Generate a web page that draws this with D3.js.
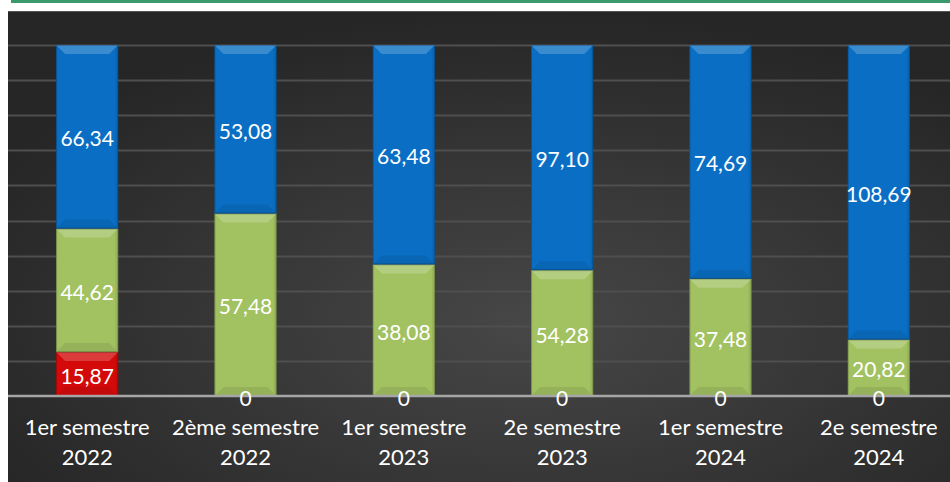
<html lang="fr">
<head>
    <meta charset="UTF-8">
    <title>Semestres</title>
    <script src="https://d3js.org/d3.v7.min.js"></script>
    <style>
        body { margin: 0; background: #ffffff; }
        svg { display: block; }
        text { font-family: Lato, "Open Sans", sans-serif; fill: #ffffff; }
    </style>
</head>
<body>
<div id="chart"></div>
<script>
    // data
    var categories = ["1er semestre|2022", "2ème semestre|2022", "1er semestre|2023",
        "2e semestre|2023", "1er semestre|2024", "2e semestre|2024"];
    var serieRouge = [15.87, 0, 0, 0, 0, 0];
    var serieVerte = [44.62, 57.48, 38.08, 54.28, 37.48, 20.82];
    var serieBleue = [66.34, 53.08, 63.48, 97.10, 74.69, 108.69];
    var gridTicks = [0.1, 0.2, 0.3, 0.4, 0.5, 0.6, 0.7, 0.8, 0.9, 1.0];

    var series = [
        {name: "rouge", values: serieRouge, color: "#d40a0a"},
        {name: "verte", values: serieVerte, color: "#a2c262"},
        {name: "bleue", values: serieBleue, color: "#0a6fc4"}
    ];

    var W = 950, H = 482;
    var plot = {left: 8, right: 958, top: 45, bottom: 396};

    var svg = d3.select("#chart").append("svg")
        .attr("width", W)
        .attr("height", H);

    var defs = svg.append("defs");
    var bg = defs.append("radialGradient").attr("id", "bg")
        .attr("cx", "55%").attr("cy", "65%").attr("r", "65%");
    bg.append("stop").attr("offset", "0%").attr("stop-color", "#474747");
    bg.append("stop").attr("offset", "100%").attr("stop-color", "#262626");

    // white card + green strip on top
    svg.append("rect").attr("x", 11).attr("y", 0).attr("width", W).attr("height", 3)
        .attr("fill", "#3a9a6c");
    svg.append("rect").attr("x", 8).attr("y", 11).attr("width", W).attr("height", H)
        .attr("fill", "url(#bg)");
    svg.append("line").attr("x1", 8).attr("x2", W).attr("y1", 11.5).attr("y2", 11.5)
        .attr("stroke", "#555").attr("stroke-width", 1);

    var x = d3.scaleBand()
        .domain(d3.range(categories.length))
        .range([plot.left, plot.right])
        .paddingInner(0.608)
        .paddingOuter(0.304);

    var y = d3.scaleLinear().domain([0, 1]).range([plot.bottom, plot.top]);

    // gridlines
    svg.append("g").selectAll("line").data(gridTicks).enter().append("line")
        .attr("x1", plot.left).attr("x2", W)
        .attr("y1", function (d) { return Math.round(y(d)) + 0.5; })
        .attr("y2", function (d) { return Math.round(y(d)) + 0.5; })
        .attr("stroke", "#4f4f4f").attr("stroke-width", 2);

    // 100% stack
    var rows = categories.map(function (c, i) {
        var r = {i: i};
        series.forEach(function (s) { r[s.name] = s.values[i]; });
        return r;
    });
    var stack = d3.stack().keys(series.map(function (s) { return s.name; }))
        .offset(d3.stackOffsetExpand);
    var layers = stack(rows);

    var bars = svg.append("g");
    layers.forEach(function (layer, k) {
        var color = series[k].color;
        layer.forEach(function (d, i) {
            var x0 = x(i), w = x.bandwidth();
            var yTop = y(d[1]), yBot = y(d[0]);
            var h = yBot - yTop;
            if (h <= 0) return;
            var g = bars.append("g");
            g.append("rect").attr("x", x0).attr("y", yTop).attr("width", w).attr("height", h)
                .attr("fill", color);
            var b = Math.min(9, h / 2);
            // bevel: top light, bottom dark, sides barely visible
            g.append("path")
                .attr("d", "M" + x0 + "," + yTop + "H" + (x0 + w) + "L" + (x0 + w - b) + "," + (yTop + b)
                    + "H" + (x0 + b) + "Z")
                .attr("fill", "#ffffff").attr("opacity", 0.2);
            g.append("path")
                .attr("d", "M" + x0 + "," + yBot + "H" + (x0 + w) + "L" + (x0 + w - b) + "," + (yBot - b)
                    + "H" + (x0 + b) + "Z")
                .attr("fill", "#000000").attr("opacity", 0.08);
            g.append("path")
                .attr("d", "M" + (x0 + w) + "," + yTop + "L" + (x0 + w - 3) + "," + (yTop + 3) + "V" + (yBot - 3)
                    + "L" + (x0 + w) + "," + yBot + "Z")
                .attr("fill", "#000000").attr("opacity", 0.06);
            g.append("rect").attr("x", x0 + 0.5).attr("y", yTop + 0.5).attr("width", w - 1).attr("height", h - 1)
                .attr("fill", "none").attr("stroke", "#000").attr("stroke-opacity", 0.2);
        });
    });

    // baseline
    svg.append("line").attr("x1", plot.left).attr("x2", W)
        .attr("y1", plot.bottom).attr("y2", plot.bottom)
        .attr("stroke", "#a6a6a6").attr("stroke-width", 2.5);

    // data labels
    var fmt = function (v) { return v === 0 ? "0" : v.toFixed(2).replace(".", ","); };
    layers.forEach(function (layer, k) {
        svg.append("g").selectAll("text").data(layer).enter().append("text")
            .attr("x", function (d, i) { return x(i) + x.bandwidth() / 2; })
            .attr("y", function (d) { return (y(d[0]) + y(d[1])) / 2 + 1; })
            .attr("text-anchor", "middle")
            .attr("dominant-baseline", "central")
            .attr("font-size", "21px")
            .text(function (d, i) { return fmt(series[k].values[i]); });
    });

    // category axis
    var axis = svg.append("g");
    categories.forEach(function (c, i) {
        var parts = c.split("|");
        var t = axis.append("text")
            .attr("x", x(i) + x.bandwidth() / 2)
            .attr("text-anchor", "middle")
            .attr("font-size", "22px");
        t.append("tspan").attr("x", x(i) + x.bandwidth() / 2).attr("y", 435).text(parts[0]);
        t.append("tspan").attr("x", x(i) + x.bandwidth() / 2).attr("y", 465).text(parts[1]);
    });
</script>
</body>
</html>
